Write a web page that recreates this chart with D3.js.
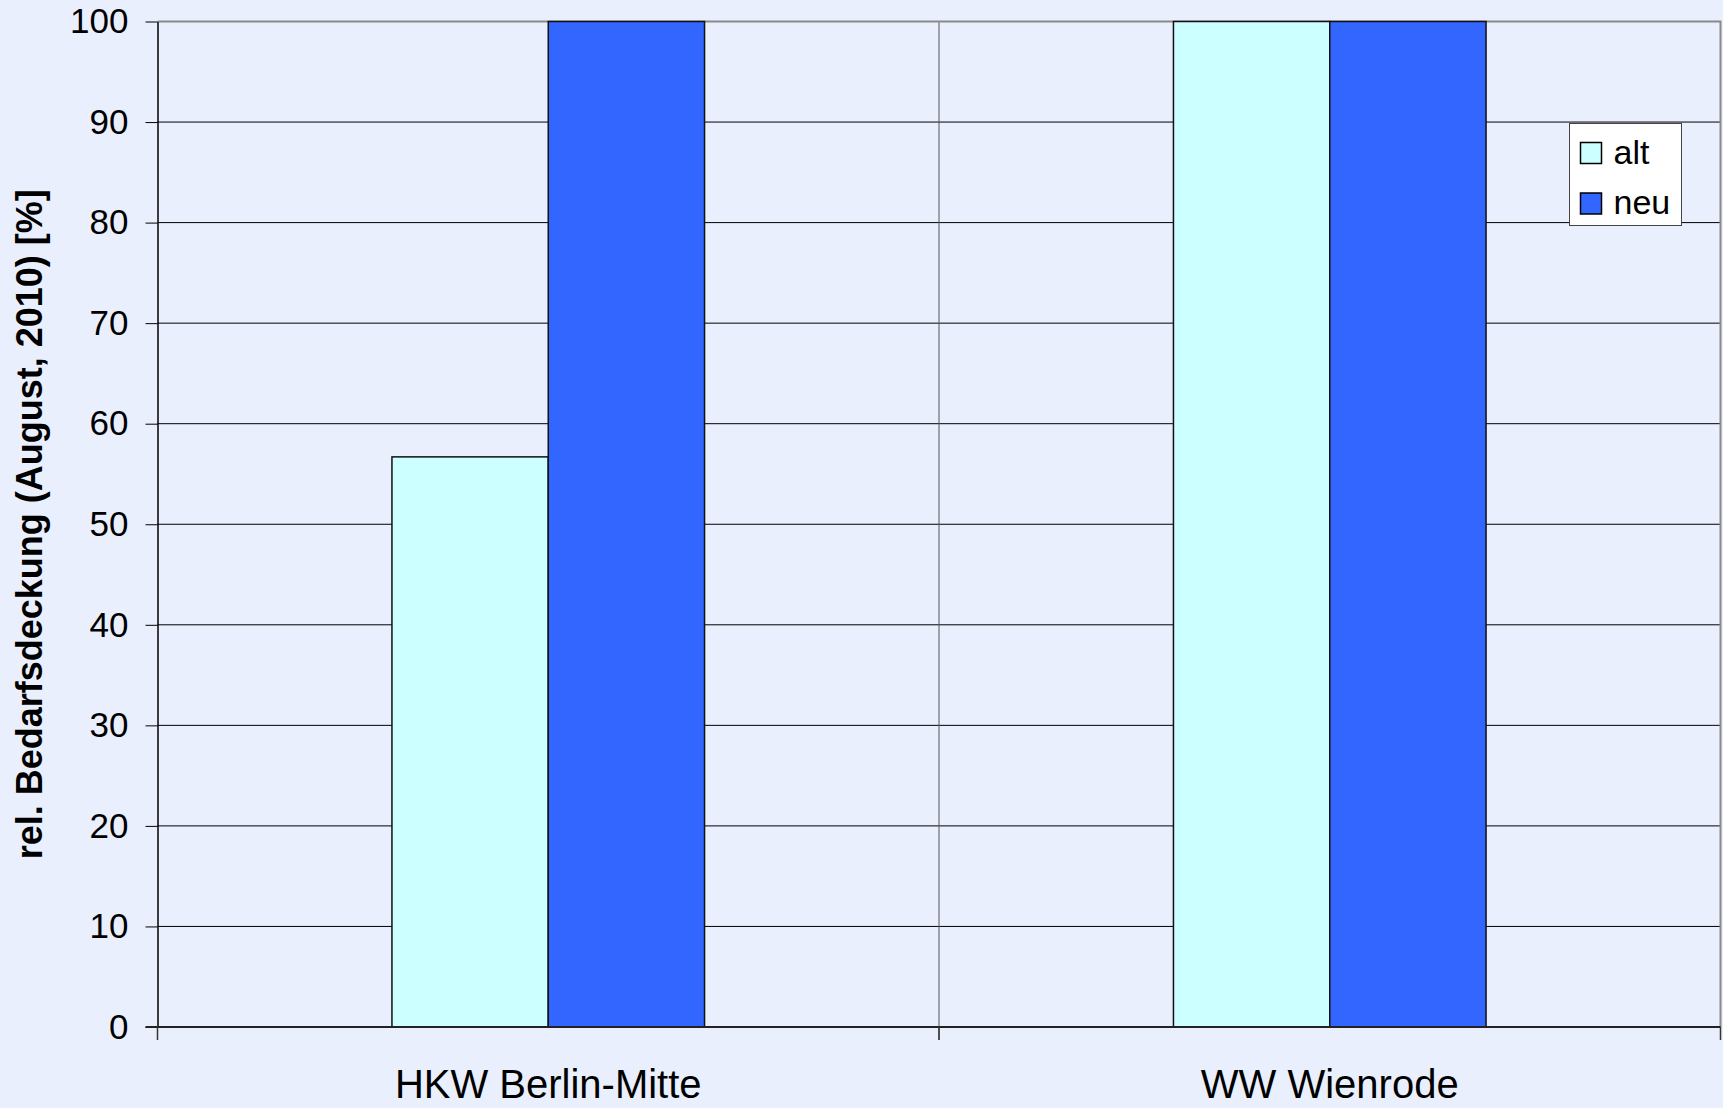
<!DOCTYPE html>
<html>
<head>
<meta charset="utf-8">
<script src="https://cdn.jsdelivr.net/npm/d3@7"></script>
<style>
  body { margin: 0; background: #eaeffd; }
  text { font-family: "Liberation Sans", Arial, sans-serif; fill: #000; }
</style>
</head>
<body>
<svg id="chart"></svg>
<script>
const categories = ["HKW Berlin-Mitte", "WW Wienrode"];
const series = ["alt", "neu"];
const altValues = [56.7, 100];
const neuValues = [100, 100];
const yTicks = [0, 10, 20, 30, 40, 50, 60, 70, 80, 90, 100];
const colors = ["#ccffff", "#3366ff"];

let w = 1723, h = 1108;
let plotLeft = 157.5, plotRight = 1720.5, plotTop = 21.5, plotBottom = 1027;

let svg = d3.select("#chart").attr("width", w).attr("height", h);

svg.append("rect").attr("width", w).attr("height", h).attr("fill", "#eaeffd");

let x0 = d3.scaleBand().domain(categories).range([plotLeft, plotRight]).padding(0);
let x1 = d3.scaleBand().domain(series).range([0, x0.bandwidth()])
  .paddingInner(0).paddingOuter(1.5);
let y = d3.scaleLinear().domain([0, 100]).range([plotBottom, plotTop]);

// horizontal gridlines
svg.append("g").selectAll("line")
  .data(yTicks.filter(d => d > 0 && d < 100))
  .enter().append("line")
  .attr("x1", plotLeft).attr("x2", plotRight)
  .attr("y1", d => y(d)).attr("y2", d => y(d))
  .attr("stroke", "#000").attr("stroke-width", 1);

// vertical gridline between categories
svg.append("line")
  .attr("x1", x0(categories[1])).attr("x2", x0(categories[1]))
  .attr("y1", plotTop).attr("y2", plotBottom + 13)
  .attr("stroke", "#555").attr("stroke-width", 1);

// plot border top / right
svg.append("path")
  .attr("d", `M${plotLeft},${plotTop}H${plotRight}V${plotBottom}`)
  .attr("fill", "none").attr("stroke", "#8a8a8a").attr("stroke-width", 2);

// bars
let rows = categories.map((c, i) => ({ cat: c, values: [altValues[i], neuValues[i]] }));
let groups = svg.append("g").selectAll("g")
  .data(rows).enter().append("g")
  .attr("transform", d => "translate(" + x0(d.cat) + ",0)");

groups.selectAll("rect")
  .data(d => d.values.map((v, j) => ({ key: series[j], value: v, color: colors[j] })))
  .enter().append("rect")
  .attr("x", d => x1(d.key))
  .attr("y", d => y(d.value))
  .attr("width", x1.bandwidth())
  .attr("height", d => plotBottom - y(d.value))
  .attr("fill", d => d.color)
  .attr("stroke", "#111").attr("stroke-width", 1.5);

// y axis
let yAxis = svg.append("g")
  .attr("transform", "translate(" + plotLeft + ",0)")
  .call(d3.axisLeft(y).tickValues(yTicks).tickSize(12).tickSizeOuter(0).tickPadding(17));
yAxis.select(".domain").attr("stroke", "#000").attr("stroke-width", 1.5);
yAxis.selectAll(".tick line").attr("stroke", "#000");
yAxis.selectAll("text")
  .attr("font-size", "35px")
  .attr("font-family", "Liberation Sans, Arial, sans-serif");

// x axis
svg.append("line")
  .attr("x1", plotLeft - 12).attr("x2", plotRight)
  .attr("y1", plotBottom).attr("y2", plotBottom)
  .attr("stroke", "#222").attr("stroke-width", 2);
svg.append("g").selectAll("line")
  .data([plotLeft, x0(categories[1]), plotRight])
  .enter().append("line")
  .attr("x1", d => d).attr("x2", d => d)
  .attr("y1", plotBottom).attr("y2", plotBottom + 13)
  .attr("stroke", "#333").attr("stroke-width", 1.5);

svg.append("g").selectAll("text")
  .data(categories).enter().append("text")
  .attr("x", d => x0(d) + x0.bandwidth() / 2)
  .attr("y", 1098)
  .attr("text-anchor", "middle")
  .attr("font-size", "40px")
  .text(d => d);

// y axis title
svg.append("text")
  .attr("transform", "translate(42," + ((plotTop + plotBottom) / 2) + ") rotate(-90)")
  .attr("text-anchor", "middle")
  .attr("font-size", "36px")
  .attr("font-weight", "bold")
  .text("rel. Bedarfsdeckung (August, 2010) [%]");

// legend
let legend = svg.append("g").attr("transform", "translate(1569.5,123.5)");
legend.append("rect")
  .attr("width", 112).attr("height", 102)
  .attr("fill", "#fff").attr("stroke", "#444").attr("stroke-width", 1);
legend.selectAll(".sw")
  .data(series).enter().append("rect")
  .attr("class", "sw")
  .attr("x", 11).attr("y", (d, i) => 19 + i * 50.5)
  .attr("width", 21).attr("height", 21)
  .attr("fill", (d, i) => colors[i])
  .attr("stroke", "#000").attr("stroke-width", 1.5);
legend.selectAll(".lt")
  .data(series).enter().append("text")
  .attr("class", "lt")
  .attr("x", 44).attr("y", (d, i) => 40 + i * 50.5)
  .attr("font-size", "34px")
  .text(d => d);
</script>
</body>
</html>
